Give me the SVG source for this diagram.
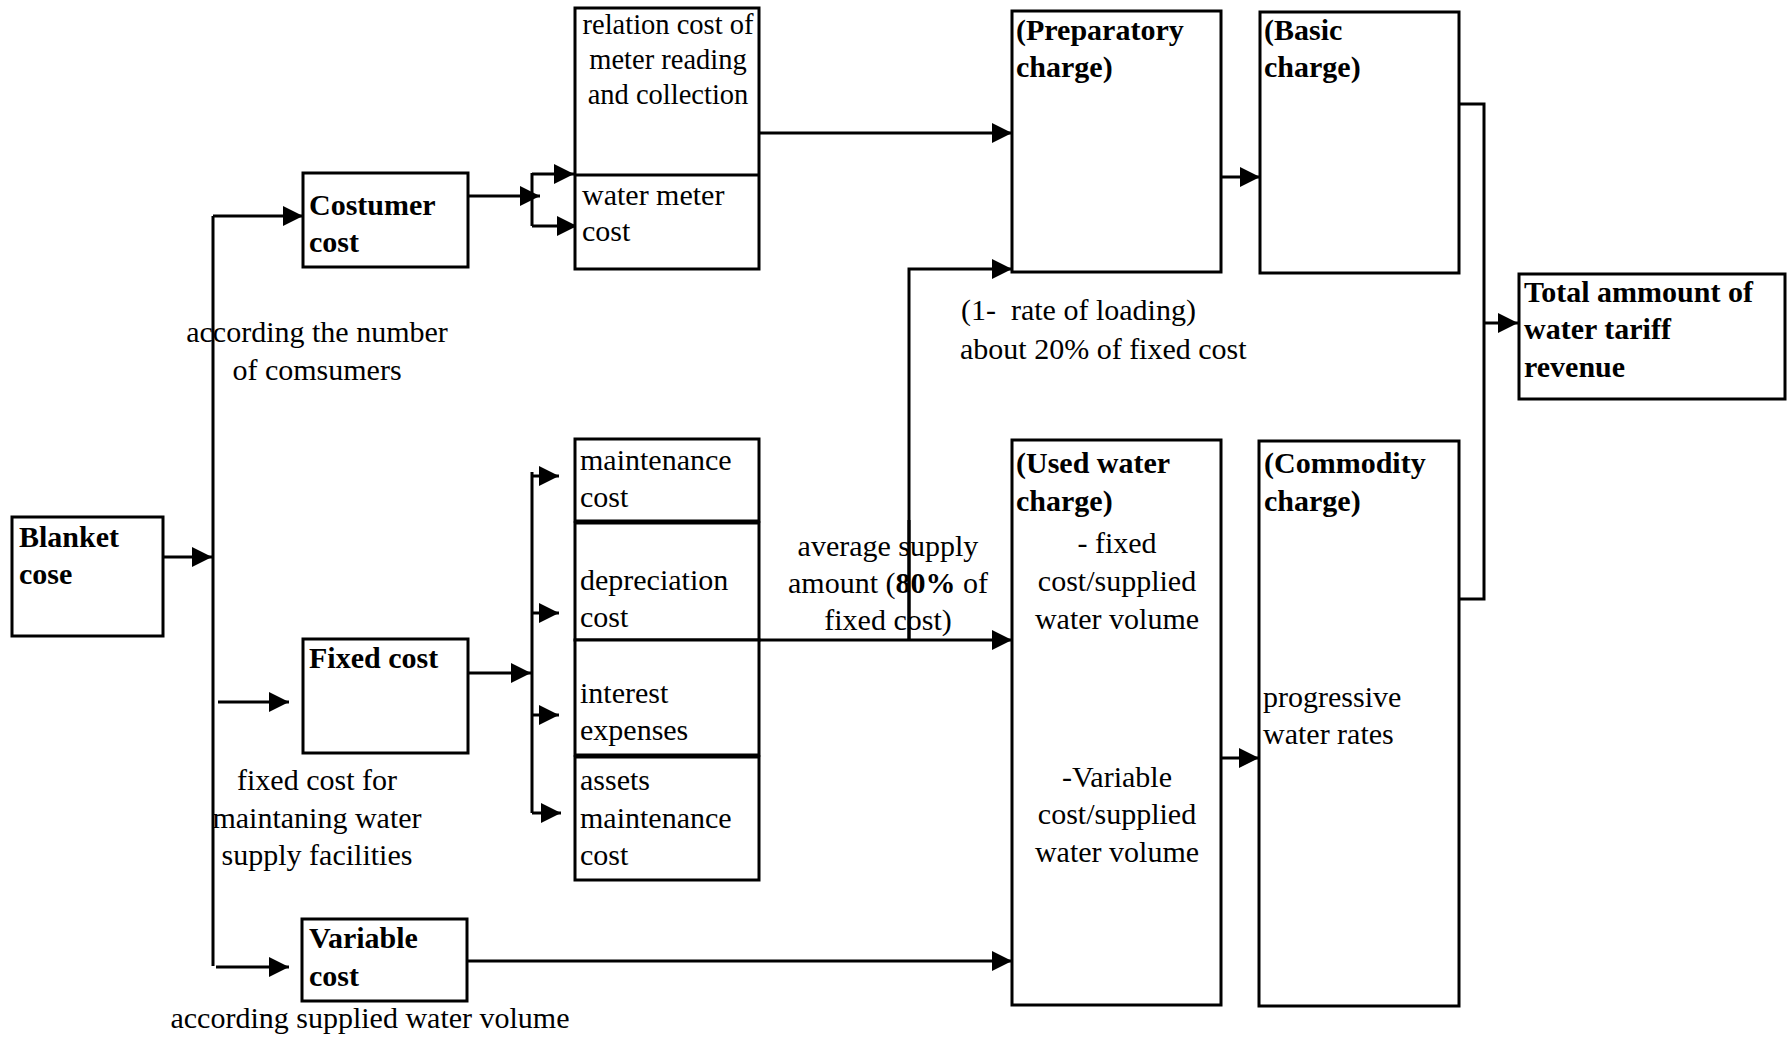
<svg xmlns="http://www.w3.org/2000/svg" width="1787" height="1040" viewBox="0 0 1787 1040">
  <style>
    .box { fill: #ffffff; stroke: #000000; stroke-width: 3; }
    .wire { fill: none; stroke: #000000; stroke-width: 3; }
    .arr { marker-end: url(#head); }
    text { font-family: "Liberation Serif", "Times New Roman", serif; font-size: 30px; fill: #000000; }
    .b { font-weight: bold; }
    .c { text-anchor: middle; }
    .s { font-size: 28.5px; }
  </style>
  <defs>
    <marker id="head" markerUnits="userSpaceOnUse" markerWidth="22" markerHeight="22" refX="20" refY="10" orient="auto">
      <path d="M0,0 L20,10 L0,20 Z" fill="#000000"/>
    </marker>
  </defs>

  <rect width="1787" height="1040" fill="#ffffff"/>

  <!-- connectors -->
  <g id="connectors">
    <!-- blanket cost into the distribution trunk -->
    <path class="wire arr" d="M163,557 H212"/>
    <path class="wire" d="M213,216 V966"/>
    <path class="wire arr" d="M213,216 H303"/>
    <path class="wire arr" d="M218,702 H289"/>
    <path class="wire arr" d="M216,967 H289"/>
    <!-- customer cost split -->
    <path class="wire arr" d="M468,196 H540"/>
    <path class="wire" d="M532,173 V226"/>
    <path class="wire arr" d="M532,174 H574"/>
    <path class="wire arr" d="M532,226 H577"/>
    <path class="wire arr" d="M759,133 H1012"/>
    <!-- fixed cost split -->
    <path class="wire arr" d="M468,673 H531"/>
    <path class="wire" d="M532,472 V813"/>
    <path class="wire arr" d="M532,476 H559"/>
    <path class="wire arr" d="M532,613 H559"/>
    <path class="wire arr" d="M532,715 H559"/>
    <path class="wire arr" d="M532,813 H561"/>
    <!-- fixed cost shares -->
    <path class="wire arr" d="M759,640 H1012"/>
    <path class="wire arr" d="M909,640 V269 H1012"/>
    <!-- variable cost -->
    <path class="wire arr" d="M467,961 H1012"/>
    <!-- charges -->
    <path class="wire arr" d="M1221,177 H1260"/>
    <path class="wire arr" d="M1221,758 H1259"/>
    <path class="wire" d="M1459,104 H1484 V599 H1459"/>
    <path class="wire arr" d="M1484,323 H1518"/>
  </g>

  <!-- edge labels -->
  <g id="labels">
    <text class="c" x="317" y="342">according the number</text>
    <text class="c" x="317" y="380">of comsumers</text>
    <text class="c" x="317" y="790">fixed cost for</text>
    <text class="c" x="317" y="828">maintaning water</text>
    <text class="c" x="317" y="865">supply facilities</text>
    <text class="c" x="370" y="1028">according supplied water volume</text>
    <text x="961" y="320">(1-&#160; rate of loading)</text>
    <text x="960" y="359">about 20% of fixed cost</text>
    <text class="c" x="888" y="556">average supply</text>
    <text class="c" x="888" y="593">amount (<tspan class="b">80%</tspan> of</text>
    <text class="c" x="888" y="630">fixed cost)</text>
  </g>
  <!-- the 80% line crosses the label block -->
  <path class="wire" d="M909,520 V640"/>

  <g id="blanket">
    <rect class="box" x="12" y="517" width="151" height="119"/>
    <text class="b" x="19" y="547">Blanket</text>
    <text class="b" x="19" y="584">cose</text>
  </g>

  <g id="customer-cost">
    <rect class="box" x="303" y="173" width="165" height="94"/>
    <text class="b" x="309" y="215">Costumer</text>
    <text class="b" x="309" y="252">cost</text>
  </g>

  <g id="fixed-cost">
    <rect class="box" x="303" y="639" width="165" height="114"/>
    <text class="b" x="309" y="668">Fixed cost</text>
  </g>

  <g id="variable-cost">
    <rect class="box" x="302" y="919" width="165" height="82"/>
    <text class="b" x="309" y="948">Variable</text>
    <text class="b" x="309" y="986">cost</text>
  </g>

  <g id="meter-costs">
    <rect class="box" x="575" y="8" width="184" height="261"/>
    <path class="wire" d="M575,175 H759"/>
    <text class="c s" x="668" y="34">relation cost of</text>
    <text class="c s" x="668" y="69">meter reading</text>
    <text class="c s" x="668" y="104">and collection</text>
    <text x="582" y="205">water meter</text>
    <text x="582" y="241">cost</text>
  </g>

  <g id="maintenance-cost">
    <rect class="box" x="575" y="439" width="184" height="82"/>
    <text x="580" y="470">maintenance</text>
    <text x="580" y="507">cost</text>
  </g>

  <g id="depreciation-cost">
    <rect class="box" x="575" y="523" width="184" height="117"/>
    <text x="580" y="590">depreciation</text>
    <text x="580" y="627">cost</text>
  </g>

  <g id="interest-expenses">
    <rect class="box" x="575" y="640" width="184" height="115"/>
    <text x="580" y="703">interest</text>
    <text x="580" y="740">expenses</text>
  </g>

  <g id="assets-maintenance">
    <rect class="box" x="575" y="757" width="184" height="123"/>
    <text x="580" y="790">assets</text>
    <text x="580" y="828">maintenance</text>
    <text x="580" y="865">cost</text>
  </g>

  <g id="preparatory-charge">
    <rect class="box" x="1012" y="11" width="209" height="261"/>
    <text class="b" x="1016" y="40">(Preparatory</text>
    <text class="b" x="1016" y="77">charge)</text>
  </g>

  <g id="basic-charge">
    <rect class="box" x="1260" y="12" width="199" height="261"/>
    <text class="b" x="1264" y="40">(Basic</text>
    <text class="b" x="1264" y="77">charge)</text>
  </g>

  <g id="used-water-charge">
    <rect class="box" x="1012" y="440" width="209" height="565"/>
    <text class="b" x="1016" y="473">(Used water</text>
    <text class="b" x="1016" y="511">charge)</text>
    <text class="c" x="1117" y="553">- fixed</text>
    <text class="c" x="1117" y="591">cost/supplied</text>
    <text class="c" x="1117" y="629">water volume</text>
    <text class="c" x="1117" y="787">-Variable</text>
    <text class="c" x="1117" y="824">cost/supplied</text>
    <text class="c" x="1117" y="862">water volume</text>
  </g>

  <g id="commodity-charge">
    <rect class="box" x="1259" y="441" width="200" height="565"/>
    <text class="b" x="1264" y="473">(Commodity</text>
    <text class="b" x="1264" y="511">charge)</text>
    <text x="1263" y="707">progressive</text>
    <text x="1263" y="744">water rates</text>
  </g>

  <g id="total-revenue">
    <rect class="box" x="1519" y="274" width="266" height="125"/>
    <text class="b" x="1524" y="302">Total ammount of</text>
    <text class="b" x="1524" y="339">water tariff</text>
    <text class="b" x="1524" y="377">revenue</text>
  </g>
</svg>
